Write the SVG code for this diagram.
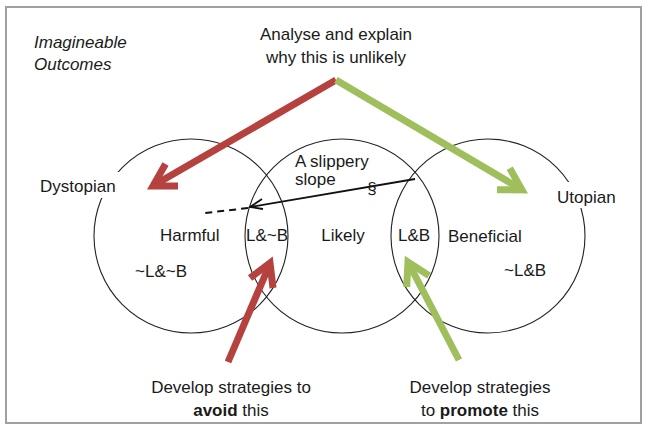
<svg xmlns="http://www.w3.org/2000/svg" width="647" height="432" viewBox="0 0 647 432">
<style>
text{font-family:"Liberation Sans",Arial,sans-serif;fill:#1a1a1a;font-size:17px}
.c{fill:none;stroke:#222;stroke-width:1.1}
.red{stroke:#b5423e;stroke-width:7;fill:none;stroke-linejoin:miter;stroke-linecap:butt}
.grn{stroke:#9fbf5c;stroke-width:7;fill:none;stroke-linejoin:miter;stroke-linecap:butt}
.m{text-anchor:middle}
</style>
<rect x="0" y="0" width="647" height="432" fill="#fff"/>
<rect x="6" y="7" width="635" height="416" fill="#fff" stroke="#a0a0a0" stroke-width="2"/>
<g id="circles">
<g id="dystopian"><circle class="c" cx="191" cy="236" r="97"/></g>
<g id="likely"><circle class="c" cx="342" cy="236" r="97"/></g>
<g id="utopian"><circle class="c" cx="488" cy="236" r="97"/></g>
</g>
<g id="labels">
<text x="34" y="48" font-style="italic">Imagineable</text>
<text x="34" y="70" font-style="italic">Outcomes</text>
<rect x="36" y="172" width="86" height="26" fill="#fff"/>
<text x="40" y="192">Dystopian</text>
<rect x="553" y="182" width="70" height="26" fill="#fff"/>
<text x="557" y="203">Utopian</text>
<text x="160" y="241">Harmful</text>
<text x="267" y="241" class="m">L&amp;~B</text>
<text x="343" y="241" class="m">Likely</text>
<text x="414" y="241" class="m">L&amp;B</text>
<text x="448" y="242">Beneficial</text>
<text x="135" y="277">~L&amp;~B</text>
<text x="504" y="276">~L&amp;B</text>
<text x="295" y="167" font-size="13">A slippery</text>
<text x="295" y="185" font-size="13">slope</text>
</g>
<g id="top-note"><text x="336" y="40" class="m">Analyse and explain</text><text x="336" y="63" class="m">why this is unlikely</text></g>
<g id="avoid-note"><text x="231" y="393" class="m">Develop strategies to</text><text x="231" y="416" class="m"><tspan font-weight="bold">avoid</tspan> this</text></g>
<g id="promote-note"><text x="480" y="393" class="m">Develop strategies</text><text x="480" y="416" class="m">to <tspan font-weight="bold">promote</tspan> this</text></g>
<g id="connectors">
<path class="red" d="M336,80 L156,184"/>
<path class="red" d="M178,186 L153,186 L165.5,164"/>
<path class="grn" d="M336,80 L519,188"/>
<path class="grn" d="M509.7,168.2 L522,190 L497,189.7"/>
<path class="red" d="M228,362 L269,266"/>
<path class="red" d="M250,278 L270,263 L273,288"/>
<path class="grn" d="M459,360 L409,264"/>
<path class="grn" d="M406.7,287 L408,262 L429,275.6"/>
<path d="M415,179 L250,207" stroke="#111" stroke-width="1.8" fill="none"/>
<path d="M262,199 L250,207 L263,209" stroke="#111" stroke-width="1.8" fill="none"/>
<path d="M248,208 L205,213" stroke="#111" stroke-width="2" stroke-dasharray="7,5" fill="none"/>
<text x="372" y="194" class="m" font-size="22">§</text>
</g>
</svg>
